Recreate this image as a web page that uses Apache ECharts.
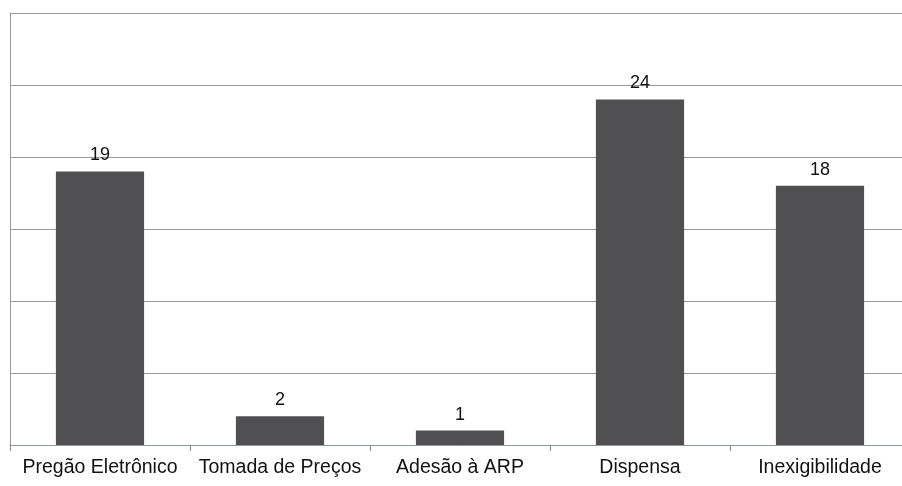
<!DOCTYPE html>
<html>
<head>
<meta charset="utf-8">
<script src="https://cdn.jsdelivr.net/npm/echarts@6/dist/echarts.min.js"></script>
<style>html,body{margin:0;padding:0;background:#fff;overflow:hidden;width:902px;height:486px;}#c{width:914px;height:486px;}</style>
</head>
<body>
<div id="c"></div>
<script>
var categories = ['Pregão Eletrônico', 'Tomada de Preços', 'Adesão à ARP', 'Dispensa', 'Inexigibilidade'];
var values = [19, 2, 1, 24, 18];
var chart = echarts.init(document.getElementById('c'));
chart.setOption({
  animation: false,
  grid: {left: 10, top: 13, width: 900, height: 432},
  xAxis: {
    type: 'category',
    data: categories,
    axisLine: {lineStyle: {color: '#8a9aa0', width: 1}},
    axisTick: {show: true, length: 6, lineStyle: {color: '#888'}},
    axisLabel: {color: '#111', fontSize: 19.5, fontFamily: 'Liberation Sans', margin: 13, interval: 0}
  },
  yAxis: {
    type: 'value',
    min: 0, max: 30, interval: 5,
    axisLine: {show: true, lineStyle: {color: '#999', width: 1}},
    axisTick: {show: false},
    axisLabel: {show: false},
    splitLine: {lineStyle: {color: '#999', width: 1}}
  },
  series: [{
    type: 'bar',
    data: values,
    barWidth: '49%',
    itemStyle: {color: '#505052'},
    label: {show: true, position: 'top', distance: 7, color: '#111', fontSize: 18, fontFamily: 'Liberation Sans'}
  }]
});
</script>
</body>
</html>
